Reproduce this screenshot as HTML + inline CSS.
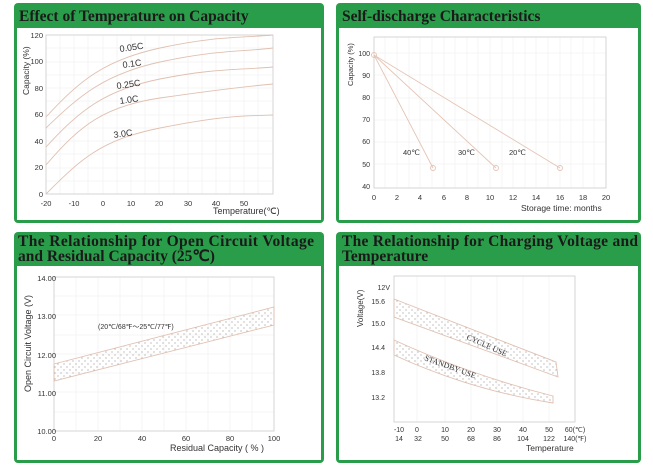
<!DOCTYPE html>
<html><head><meta charset="utf-8"><style>
body{margin:0;background:#fff;width:653px;height:467px;overflow:hidden}
svg{display:block}
</style></head><body>
<svg width="653" height="467" xmlns="http://www.w3.org/2000/svg" font-family="Liberation Sans, sans-serif">
<defs>
<pattern id="dots" width="6" height="6" patternUnits="userSpaceOnUse"><circle cx="1" cy="1" r="0.6" fill="#999"/><circle cx="4" cy="4" r="0.6" fill="#999"/></pattern>
</defs>
<rect width="653" height="467" fill="#fff"/>
<!-- panels -->
<g fill="#2a9d4a">
<rect x="14" y="3" width="310" height="220" rx="4"/>
<rect x="336" y="3" width="305" height="220" rx="4"/>
<rect x="14" y="232" width="310" height="231" rx="4"/>
<rect x="336" y="232" width="305" height="231" rx="4"/>
</g>
<g fill="#fff">
<rect x="17" y="28" width="304" height="192"/>
<rect x="339" y="28" width="299" height="192"/>
<rect x="17" y="266" width="304" height="194"/>
<rect x="339" y="266" width="299" height="194"/>
</g>
<g font-family="Liberation Serif, serif" font-weight="bold" font-size="15.5" fill="#1a1a1a">
<text x="19" y="21">Effect of Temperature on Capacity</text>
<text x="342" y="21">Self-discharge Characteristics</text>
<text x="18" y="246" textLength="296">The Relationship for Open Circuit Voltage</text>
<text x="18" y="261">and Residual Capacity (25℃)</text>
<text x="342" y="246" textLength="296">The Relationship for Charging Voltage and</text>
<text x="342" y="261">Temperature</text>
</g>

<!-- Chart 1 -->
<g stroke="#eee" stroke-width="0.6">
<path d="M60 35V194M74 35V194M88 35V194M103 35V194M117 35V194M131 35V194M145 35V194M159 35V194M174 35V194M188 35V194M202 35V194M216 35V194M230 35V194M244 35V194M258 35V194"/>
<path d="M46 48H273M46 62H273M46 75H273M46 88H273M46 101H273M46 115H273M46 128H273M46 141H273M46 154H273M46 168H273M46 181H273"/>
</g>
<rect x="46" y="35" width="227" height="159" fill="none" stroke="#ccc" stroke-width="0.8"/>
<g fill="none" stroke="#e0c0b0" stroke-width="0.9">
<path d="M46 117 C80 80,105 60,160 48 S240 38,273 35"/>
<path d="M46 128 C80 95,105 74,160 62 S240 52,273 48"/>
<path d="M46 147 C80 110,105 90,160 79 S240 70,273 67"/>
<path d="M46 165 C80 125,105 106,160 98 S240 87,273 84"/>
<path d="M46 194 C80 160,100 140,160 128 S240 116,273 115"/>
</g>
<g font-size="8.5" fill="#333" transform="rotate(-8)">
</g>
<g font-size="9" fill="#333">
<text x="120" y="52" transform="rotate(-8 120 52)">0.05C</text>
<text x="123" y="68" transform="rotate(-8 123 68)">0.1C</text>
<text x="117" y="89" transform="rotate(-8 117 89)">0.25C</text>
<text x="120" y="104" transform="rotate(-8 120 104)">1.0C</text>
<text x="114" y="138" transform="rotate(-8 114 138)">3.0C</text>
</g>
<g font-size="7.5" fill="#333" text-anchor="end">
<text x="43" y="38">120</text><text x="43" y="64">100</text><text x="43" y="91">80</text><text x="43" y="117">60</text><text x="43" y="144">40</text><text x="43" y="170">20</text><text x="43" y="197">0</text>
</g>
<g font-size="7.5" fill="#333" text-anchor="middle">
<text x="46" y="206">-20</text><text x="74" y="206">-10</text><text x="103" y="206">0</text><text x="131" y="206">10</text><text x="159" y="206">20</text><text x="188" y="206">30</text><text x="216" y="206">40</text><text x="244" y="206">50</text>
</g>
<text x="213" y="214" font-size="9" fill="#333">Temperature(℃)</text>
<text transform="translate(29 95) rotate(-90)" font-size="8.5" fill="#333">Capacity (%)</text>

<!-- Chart 2 -->
<g stroke="#eee" stroke-width="0.6">
<path d="M385 37V188M397 37V188M409 37V188M420 37V188M432 37V188M444 37V188M455 37V188M467 37V188M478 37V188M490 37V188M502 37V188M513 37V188M525 37V188M536 37V188M548 37V188M560 37V188M571 37V188M583 37V188M594 37V188"/>
<path d="M374 53H606M374 75H606M374 98H606M374 120H606M374 142H606M374 164H606"/>
</g>
<rect x="374" y="37" width="232" height="151" fill="none" stroke="#ccc" stroke-width="0.8"/>
<g fill="none" stroke="#e5c4b4" stroke-width="0.9">
<path d="M374 55L433 168M374 55L496 168M374 55L560 168"/>
<circle cx="374" cy="55" r="2.5"/><circle cx="433" cy="168" r="2.5"/><circle cx="496" cy="168" r="2.5"/><circle cx="560" cy="168" r="2.5"/>
</g>
<g font-size="7.5" fill="#333">
<text x="403" y="155">40℃</text><text x="458" y="155">30℃</text><text x="509" y="155">20℃</text>
</g>
<g font-size="7" fill="#333" text-anchor="end">
<text x="370" y="56">100</text><text x="370" y="78">90</text><text x="370" y="100">80</text><text x="370" y="122">70</text><text x="370" y="144">60</text><text x="370" y="167">50</text><text x="370" y="189">40</text>
</g>
<g font-size="7.5" fill="#333" text-anchor="middle">
<text x="374" y="200">0</text><text x="397" y="200">2</text><text x="420" y="200">4</text><text x="444" y="200">6</text><text x="467" y="200">8</text><text x="490" y="200">10</text><text x="513" y="200">12</text><text x="536" y="200">14</text><text x="560" y="200">16</text><text x="583" y="200">18</text><text x="606" y="200">20</text>
</g>
<text x="521" y="211" font-size="8.5" fill="#333">Storage time: months</text>
<text transform="translate(353 86) rotate(-90)" font-size="7.5" fill="#333">Capacity (%)</text>

<!-- Chart 3 -->
<g stroke="#eee" stroke-width="0.6">
<path d="M76 277V431M98 277V431M120 277V431M142 277V431M164 277V431M186 277V431M208 277V431M230 277V431M252 277V431"/>
<path d="M54 296H274M54 315H274M54 335H274M54 354H274M54 373H274M54 392H274M54 412H274"/>
</g>
<rect x="54" y="277" width="220" height="154" fill="none" stroke="#ccc" stroke-width="0.8"/>
<path d="M54 364L274 307L274 325L54 381Z" fill="url(#dots)" stroke="#e0c0b0" stroke-width="0.9"/>
<text x="98" y="329" font-size="7" fill="#333">(20℃/68℉～25℃/77℉)</text>
<g font-size="7.5" fill="#333" text-anchor="end">
<text x="56" y="281">14.00</text><text x="56" y="319">13.00</text><text x="56" y="358">12.00</text><text x="56" y="396">11.00</text><text x="56" y="434">10.00</text>
</g>
<g font-size="7.5" fill="#333" text-anchor="middle">
<text x="54" y="441">0</text><text x="98" y="441">20</text><text x="142" y="441">40</text><text x="186" y="441">60</text><text x="230" y="441">80</text><text x="274" y="441">100</text>
</g>
<text x="170" y="451" font-size="9" fill="#333">Residual Capacity ( % )</text>
<text transform="translate(31 392) rotate(-90)" font-size="9" fill="#333">Open Circuit Voltage (V)</text>

<!-- Chart 4 -->
<g stroke="#eee" stroke-width="0.6">
<path d="M417 276V422M445 276V422M471 276V422M497 276V422M523 276V422M549 276V422"/>
</g>
<rect x="394" y="276" width="181" height="146" fill="none" stroke="#ccc" stroke-width="0.8"/>
<path d="M394 299L556 362L558 377L394 317Z" fill="url(#dots)" stroke="#e0c0b0" stroke-width="0.9"/>
<path d="M394 340Q470 375 553 396L553 403Q470 390 394 355Z" fill="url(#dots)" stroke="#e0c0b0" stroke-width="0.9"/>
<text x="466" y="339" font-size="8" font-family="Liberation Serif, serif" fill="#333" transform="rotate(24 466 339)">CYCLE USE</text>
<text x="424" y="360" font-size="8" font-family="Liberation Serif, serif" fill="#333" transform="rotate(20 424 360)">STANDBY USE</text>
<g font-size="7" fill="#333" text-anchor="end">
<text x="390" y="290">12V</text><text x="385" y="304">15.6</text><text x="385" y="326">15.0</text><text x="385" y="350">14.4</text><text x="385" y="375">13.8</text><text x="385" y="400">13.2</text>
</g>
<g font-size="7" fill="#333" text-anchor="middle">
<text x="399" y="432">-10</text><text x="417" y="432">0</text><text x="445" y="432">10</text><text x="471" y="432">20</text><text x="497" y="432">30</text><text x="523" y="432">40</text><text x="549" y="432">50</text><text x="575" y="432">60(℃)</text>
<text x="399" y="441">14</text><text x="418" y="441">32</text><text x="445" y="441">50</text><text x="471" y="441">68</text><text x="497" y="441">86</text><text x="523" y="441">104</text><text x="549" y="441">122</text><text x="575" y="441">140(℉)</text>
</g>
<text x="526" y="451" font-size="8.5" fill="#333">Temperature</text>
<text transform="translate(363 327) rotate(-90)" font-size="8" fill="#333">Voltage(V)</text>
</svg>
</body></html>
